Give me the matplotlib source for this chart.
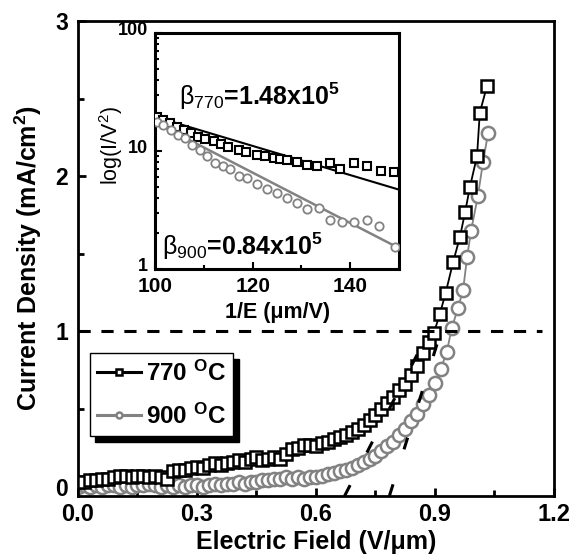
import matplotlib
matplotlib.use('Agg')
import matplotlib.pyplot as plt
from matplotlib.ticker import MultipleLocator, FormatStrFormatter
from matplotlib.transforms import ScaledTranslation

plt.rcParams['font.family'] = ['Liberation Sans', 'DejaVu Sans']
plt.rcParams['mathtext.fontset'] = 'custom'
plt.rcParams['mathtext.rm'] = 'Liberation Sans'
plt.rcParams['mathtext.it'] = 'Liberation Sans:italic'
plt.rcParams['mathtext.bf'] = 'Liberation Sans:bold'

# main J-E curves
e_770 = [0.000, 0.015, 0.030, 0.045, 0.060, 0.075, 0.090, 0.105, 0.120, 0.135,
         0.150, 0.165, 0.180, 0.195, 0.210, 0.225, 0.240, 0.255, 0.270, 0.285,
         0.300, 0.315, 0.330, 0.345, 0.360, 0.375, 0.390, 0.405, 0.420, 0.435,
         0.450, 0.465, 0.480, 0.495, 0.510, 0.525, 0.540, 0.555, 0.570, 0.585,
         0.600, 0.615, 0.630, 0.645, 0.660, 0.675, 0.690, 0.705, 0.720, 0.735,
         0.750, 0.765, 0.780, 0.795, 0.810, 0.825, 0.840, 0.855, 0.870, 0.885,
         0.897, 0.912, 0.927, 0.946, 0.963, 0.976, 0.988, 1.006, 1.013, 1.031]
j_770 = [0.03, 0.03, 0.04, 0.04, 0.05, 0.05, 0.06, 0.07, 0.07, 0.06,
         0.07, 0.07, 0.06, 0.07, 0.06, 0.05, 0.10, 0.11, 0.11, 0.12,
         0.13, 0.12, 0.14, 0.15, 0.14, 0.15, 0.16, 0.17, 0.16, 0.18,
         0.19, 0.17, 0.18, 0.19, 0.18, 0.21, 0.24, 0.25, 0.27, 0.27,
         0.26, 0.28, 0.29, 0.31, 0.32, 0.33, 0.35, 0.37, 0.40, 0.43,
         0.46, 0.50, 0.54, 0.58, 0.62, 0.66, 0.72, 0.78, 0.86, 0.93,
         0.99, 1.11, 1.25, 1.45, 1.61, 1.77, 1.93, 2.13, 2.41, 2.58]

e_900 = [0.000, 0.015, 0.030, 0.045, 0.060, 0.075, 0.090, 0.105, 0.120, 0.135,
         0.150, 0.165, 0.180, 0.195, 0.210, 0.225, 0.240, 0.255, 0.270, 0.285,
         0.300, 0.315, 0.330, 0.345, 0.360, 0.375, 0.390, 0.405, 0.420, 0.435,
         0.450, 0.465, 0.480, 0.495, 0.510, 0.525, 0.540, 0.555, 0.570, 0.585,
         0.600, 0.615, 0.630, 0.645, 0.660, 0.675, 0.690, 0.705, 0.720, 0.735,
         0.750, 0.765, 0.780, 0.795, 0.810, 0.825, 0.840, 0.855, 0.870, 0.885,
         0.900, 0.915, 0.930, 0.942, 0.958, 0.971, 0.981, 0.991, 1.008, 1.021,
         1.034]
j_900 = [0.00, 0.01, 0.00, 0.01, 0.00, 0.01, 0.01, 0.00, 0.01, 0.00,
         0.01, 0.01, 0.02, 0.01, 0.00, 0.01, 0.00, 0.01, 0.00, 0.01,
         0.01, 0.00, 0.01, 0.02, 0.01, 0.02, 0.02, 0.03, 0.02, 0.03,
         0.03, 0.04, 0.04, 0.05, 0.05, 0.06, 0.05, 0.06, 0.05, 0.06,
         0.06, 0.07, 0.08, 0.09, 0.10, 0.11, 0.12, 0.14, 0.16, 0.18,
         0.20, 0.23, 0.26, 0.29, 0.33, 0.37, 0.42, 0.47, 0.53, 0.59,
         0.67, 0.76, 0.87, 1.02, 1.15, 1.27, 1.48, 1.65, 1.87, 2.09,
         2.28]

# tangent (extrapolation) lines
tan_a_x = [0.672, 0.895]
tan_a_y = [-0.06, 1.05]
tan_b_x = [0.785, 0.925]
tan_b_y = [-0.06, 1.08]

# inset F-N data
inv_e_770 = [100.5, 101.7, 103.1, 104.4, 105.9, 107.3, 108.9, 110.3, 112.0, 113.5,
             115.0, 117.1, 118.7, 120.9, 122.6, 124.3, 125.6, 127.0, 129.1, 131.1,
             133.2, 135.9, 137.9, 140.7, 143.4, 146.2, 148.9]
fn_770 = [19.3, 18.3, 17.2, 16.1, 15.1, 14.1, 13.2, 12.6, 12.2, 11.5,
          10.9, 10.2, 9.9, 9.2, 9.0, 8.7, 8.5, 8.4, 8.0, 7.6,
          7.4, 7.9, 7.0, 7.9, 7.4, 6.8, 6.7]
inv_e_900 = [100.5, 101.7, 103.2, 104.8, 106.1, 107.5, 109.2, 110.6, 112.3, 113.9,
             115.4, 117.1, 118.8, 120.9, 122.9, 125.0, 127.0, 129.1, 131.1, 133.5,
             135.9, 138.3, 140.8, 143.4, 145.8, 149.2]
fn_900 = [17.7, 16.6, 15.1, 13.7, 12.8, 11.2, 10.2, 9.0, 7.9, 7.4,
          7.1, 6.1, 5.9, 5.2, 4.8, 4.4, 4.0, 3.6, 3.2, 3.3,
          2.6, 2.5, 2.5, 2.6, 2.3, 1.55]
fit_x = [100, 150]
fit_770 = [19.5, 4.7]
fit_900 = [17.5, 1.5]

gray = '#828282'

fig = plt.figure(figsize=(5.71, 5.59), dpi=100)
ax = fig.add_axes([0.1366, 0.1127, 0.8336, 0.8497])

ax.plot(e_770, j_770, color='k', lw=1.3, marker='s', ms=9, mew=1.8,
        mfc='white', mec='k', label=r'770 $^{\mathbf{O}}$C', zorder=3)
ax.plot(e_900, j_900, color=gray, lw=1.3, marker='o', ms=9.5, mew=1.8,
        mfc='white', mec=gray, label=r'900 $^{\mathbf{O}}$C', zorder=2)

ax.plot([0, 1.17], [1, 1], color='k', lw=2.2, ls=(0, (4, 3.5)), zorder=4)
ax.plot(tan_a_x, tan_a_y, color='k', lw=2.2, ls=(0, (4, 12)), zorder=4)
ax.plot(tan_b_x, tan_b_y, color='k', lw=2.2, ls=(0, (4, 12)), zorder=4)

ax.set_xlim(0, 1.2)
ax.set_ylim(-0.06, 3)
ax.xaxis.set_major_locator(MultipleLocator(0.3))
ax.xaxis.set_minor_locator(MultipleLocator(0.15))
ax.yaxis.set_major_locator(MultipleLocator(1))
ax.yaxis.set_minor_locator(MultipleLocator(0.5))
ax.xaxis.set_major_formatter(FormatStrFormatter('%.1f'))
ax.tick_params(which='both', direction='in', top=False, right=False, width=2)
ax.tick_params(which='major', length=6)
ax.tick_params(which='minor', length=4)
ax.tick_params(axis='x', which='major', labelsize=17, pad=5)
ax.tick_params(axis='y', which='major', labelsize=16.5, pad=7)
for lab in ax.get_xticklabels() + ax.get_yticklabels():
    lab.set_fontweight('bold')
for sp in ax.spines.values():
    sp.set_linewidth(2)

ax.set_xlabel('Electric Field (V/μm)', fontsize=18, fontweight='bold')
ax.xaxis.set_label_coords(0.5, -0.072)
ax.set_ylabel(r'Current Density (mA/cm$^{\mathbf{2}}$)', fontsize=18,
              fontweight='bold')
ax.yaxis.set_label_coords(-0.072, 0.5)

leg = ax.legend(loc='upper left', bbox_to_anchor=(0.025, 0.301), borderaxespad=0,
                fancybox=False, edgecolor='k', framealpha=1, markerscale=0.45,
                handlelength=1.8, handletextpad=0.2, borderpad=0.3, labelspacing=0.75,
                prop={'size': 17.5, 'weight': 'bold'},
                shadow={'ox': 4, 'oy': -4, 'color': 'k', 'alpha': 1})
leg.get_frame().set_linewidth(1.0)
for h in leg.get_lines():
    h.set_linewidth(2.2)

# inset
axi = fig.add_axes([0.2715, 0.5188, 0.4275, 0.4222])
axi.plot(inv_e_770, fn_770, ls='none', marker='s', ms=5.5, mew=1.5,
         mfc='white', mec='k', zorder=3)
axi.plot(inv_e_900, fn_900, ls='none', marker='o', ms=6, mew=1.3,
         mfc='white', mec=gray, zorder=3)
axi.plot(fit_x, fit_770, color='k', lw=1.5, zorder=2)
axi.plot(fit_x, fit_900, color=gray, lw=1.8, zorder=2)
axi.set_yscale('log')
axi.set_xlim(100, 150)
axi.set_ylim(1, 100)
axi.xaxis.set_major_locator(MultipleLocator(20))
axi.xaxis.set_minor_locator(MultipleLocator(10))
axi.yaxis.set_major_formatter(FormatStrFormatter('%d'))
axi.tick_params(which='both', direction='in', top=False, right=False, width=1.5)
axi.tick_params(which='major', length=5)
axi.tick_params(which='minor', length=3, labelleft=False)
axi.tick_params(axis='x', which='major', labelsize=15, pad=5.5)
axi.tick_params(axis='y', which='major', labelsize=13, pad=5)
for lab in axi.get_xticklabels() + axi.get_yticklabels():
    lab.set_fontweight('bold')
# nudge inset y tick labels up a little so "1" clears "100"
lift = ScaledTranslation(0, 3 / 72, fig.dpi_scale_trans)
for lab in axi.get_yticklabels():
    lab.set_transform(lab.get_transform() + lift)
for sp in axi.spines.values():
    sp.set_linewidth(2.2)
axi.set_xlabel('1/E (μm/V)', fontsize=15.5, fontweight='bold')
axi.xaxis.set_label_coords(0.5, -0.14)
axi.set_ylabel(r'log(I/V$^2$)', fontsize=15.5)
axi.yaxis.set_label_coords(-0.125, 0.525)

axi.text(0.10, 0.73, r'$\mathrm{\beta}_{770}$=1.48x10$^{\mathbf{5}}$', transform=axi.transAxes,
         fontsize=18, fontweight='bold', va='center', ha='left')
axi.text(0.03, 0.095, r'$\mathrm{\beta}_{900}$=0.84x10$^{\mathbf{5}}$', transform=axi.transAxes,
         fontsize=18, fontweight='bold', va='center', ha='left')

fig.savefig('out.png', dpi=100)
